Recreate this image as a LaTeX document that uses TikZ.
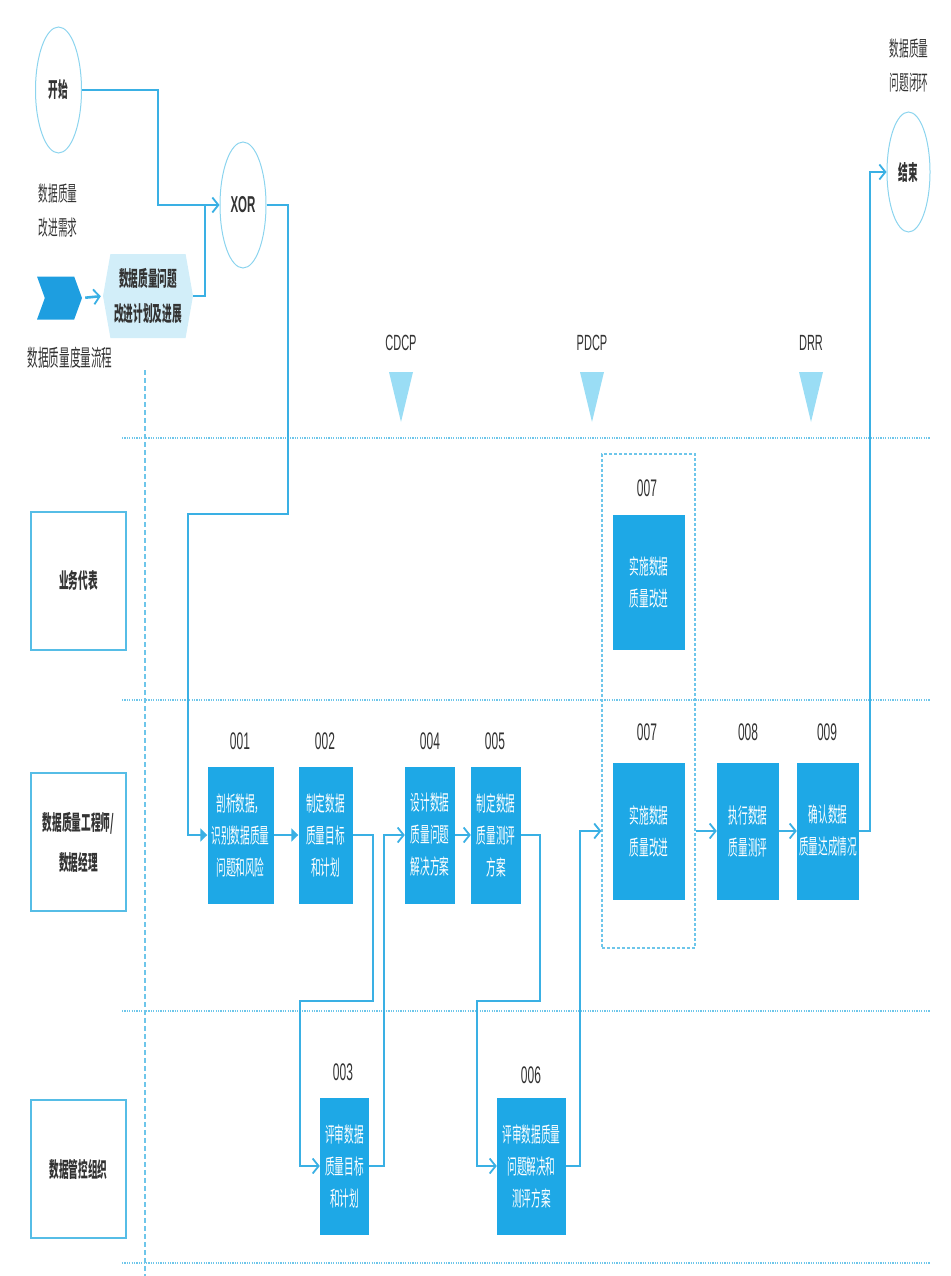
\documentclass[tikz,border=0pt]{standalone}
\usepackage{fontspec}
\setmainfont[FakeStretch=0.46]{Noto Sans CJK SC}
\newfontfamily\numfont[FakeStretch=0.5]{Liberation Sans}
\usetikzlibrary{shapes.geometric}
\usetikzlibrary{shapes.symbols}
\usetikzlibrary{arrows.meta}

\definecolor{lineblue}{RGB}{58,176,228}
\definecolor{boxblue}{RGB}{30,168,230}
\definecolor{ringblue}{RGB}{140,212,238}
\definecolor{laneblue}{RGB}{86,189,230}
\definecolor{sepblue}{RGB}{110,198,234}
\definecolor{triblue}{RGB}{154,221,245}
\definecolor{hexblue}{RGB}{210,238,249}
\definecolor{chevblue}{RGB}{30,158,224}
\definecolor{txtgray}{RGB}{51,51,51}

\tikzset{
  flow/.style={draw=lineblue, line width=2.6pt},
  barb/.style={-{Straight Barb[length=6pt,width=15pt,line width=1.8pt]}},
  tri/.style={-{Triangle[length=7pt,width=13pt]}},
  proc/.style={fill=boxblue, text=white, align=center, inner sep=0pt,
    minimum height=137pt, font=\fontsize{21}{32}\selectfont},
  lane/.style={draw=laneblue, line width=1.6pt, minimum width=95pt,
    minimum height=138pt, align=center, text=txtgray,
    font=\bfseries\fontsize{21}{40}\selectfont},
  ring/.style={ellipse, draw=ringblue, line width=1pt, inner sep=0pt,
    minimum width=46pt, minimum height=126pt, text=txtgray,
    font=\bfseries\fontsize{21}{24}\selectfont},
  note/.style={align=center, text=txtgray, inner sep=0pt,
    font=\fontsize{21}{34}\selectfont},
  num/.style={text=txtgray, inner sep=0pt, font=\numfont\fontsize{24}{26}\selectfont},
  mslabel/.style={text=txtgray, inner sep=0pt, font=\numfont\fontsize{22}{24}\selectfont},
  sep/.style={draw=sepblue, line width=1.5pt, dash pattern=on 1.2pt off 1.2pt},
  grpbox/.style={draw=sepblue, line width=1.3pt, dash pattern=on 3pt off 2pt,
    minimum width=93pt, minimum height=494pt, inner sep=0pt}
}

\begin{document}
\begin{tikzpicture}[x=1pt,y=-1pt]
\useasboundingbox (0,0) rectangle (950,1276);

% lanes
\foreach \y in {438,700,1011,1263}
{\draw[sep] (122,\y) -- (930,\y);}
\draw[draw=sepblue, line width=1.2pt, dash pattern=on 5pt off 3pt] (145,370) -- (145,1276);

\node[lane] (biz) at (78.5,581) {业务代表};
\node[lane] (eng) at (78.5,842) {数据质量工程师/\\数据经理};
\node[lane] (gov) at (78.5,1169) {数据管控组织};

% milestones
\foreach \x/\t/\n in {401/CDCP/cdcp, 592/PDCP/pdcp, 811/DRR/drr}
{\node[mslabel] (\n) at (\x,343) {\t};
 \fill[triblue] (\x-12,372) -- (\x+12,372) -- (\x,422) -- cycle;}

% start side
\node[ring] (start) at (58.5,90) {开始};
\node[note] (needtxt) at (58,211) {数据质量\\改进需求};
\node[signal, signal from=west, signal to=east, signal pointer angle=140,
  fill=chevblue, inner sep=0pt, minimum width=45pt, minimum height=43pt] (gauge) at (59.5,298) {};
\node[note, font=\fontsize{23}{34}\selectfont] (gaugetxt) at (70,358) {数据质量度量流程};
\node[signal, signal to=east and west, signal pointer angle=160, fill=hexblue,
  inner sep=0pt, minimum width=90pt, minimum height=84pt, align=center,
  text=txtgray, font=\bfseries\fontsize{21}{35}\selectfont] (plan) at (148,296) {数据质量问题\\改进计划及进展};
\node[ring, font=\bfseries\numfont\fontsize{23}{25}\selectfont] (xor) at (243,205) {XOR};
\node[ring, minimum width=43pt, minimum height=120pt] (finish) at (908.5,172) {结束};
\node[note] (closetxt) at (909,66) {数据质量\\问题闭环};

% steps
\node[proc, minimum width=66pt] (p001) at (240.5,835) {剖析数据，\\识别数据质量\\问题和风险};
\node[proc, minimum width=54pt] (p002) at (325.5,835) {制定数据\\质量目标\\和计划};
\node[proc, minimum width=49pt] (p003) at (344.5,1166) {评审数据\\质量目标\\和计划};
\node[proc, minimum width=50pt] (p004) at (430,835) {设计数据\\质量问题\\解决方案};
\node[proc, minimum width=50pt] (p005) at (496,835) {制定数据\\质量测评\\方案};
\node[proc, minimum width=69pt] (p006) at (531.5,1166) {评审数据质量\\问题解决和\\测评方案};
\node[grpbox] (grp) at (648.5,701) {};
\node[proc, minimum width=72pt, minimum height=135pt] (p007a) at (649,582) {实施数据\\质量改进};
\node[proc, minimum width=72pt] (p007b) at (649,831) {实施数据\\质量改进};
\node[proc, minimum width=62pt] (p008) at (748,831) {执行数据\\质量测评};
\node[proc, minimum width=62pt] (p009) at (828,831) {确认数据\\质量达成情况};

\foreach \n/\x/\y/\t in {n001/240/741/001, n002/325/741/002, n004/430/741/004,
  n005/495/741/005, n003/343/1072/003, n006/531/1075/006, n007a/647/488/007,
  n007b/647/732/007, n008/748/732/008, n009/827/732/009}
{\node[num] (\n) at (\x,\y) {\t};}

% connectors
\coordinate (a1) at (158,90);
\coordinate (a2) at (205,205);
\coordinate (a3) at (288,514);
\coordinate (a4) at (188,514);
\coordinate (b1) at (373,1001);
\coordinate (b2) at (300,1001);
\coordinate (b3) at (384,1166);
\coordinate (c1) at (540,1001);
\coordinate (c2) at (477,1001);
\coordinate (c3) at (580,1166);
\coordinate (c4) at (870,831);

\draw[flow,barb] (start.east) -- (a1) |- (xor.west);
\draw[flow,barb,shorten <=3pt,shorten >=2pt] (gauge.east) -- (plan.west);
\draw[flow] (plan.east) -| (a2);
\draw[flow,tri] (xor.east) -| (a3) -- (a4) |- (p001.west);
\draw[flow,tri] (p001) -- (p002);
\draw[flow,barb] (p002.east) -| (b1) -- (b2) |- (p003.west);
\draw[flow,barb] (p003.east) -- (b3) |- (p004.west);
\draw[flow,barb] (p005.east) -| (c1) -- (c2) |- (p006.west);
\draw[flow,barb] (p006.east) -- (c3) |- (grp.west |- p007b);
\draw[flow,barb] (grp.east |- p007b) -- (p008.west);
\foreach \p/\q in {p004/p005, p008/p009}
{\draw[flow,barb] (\p) -- (\q);}
\draw[flow,barb] (p009.east) -- (c4) |- (finish.west);

\end{tikzpicture}
\end{document}
